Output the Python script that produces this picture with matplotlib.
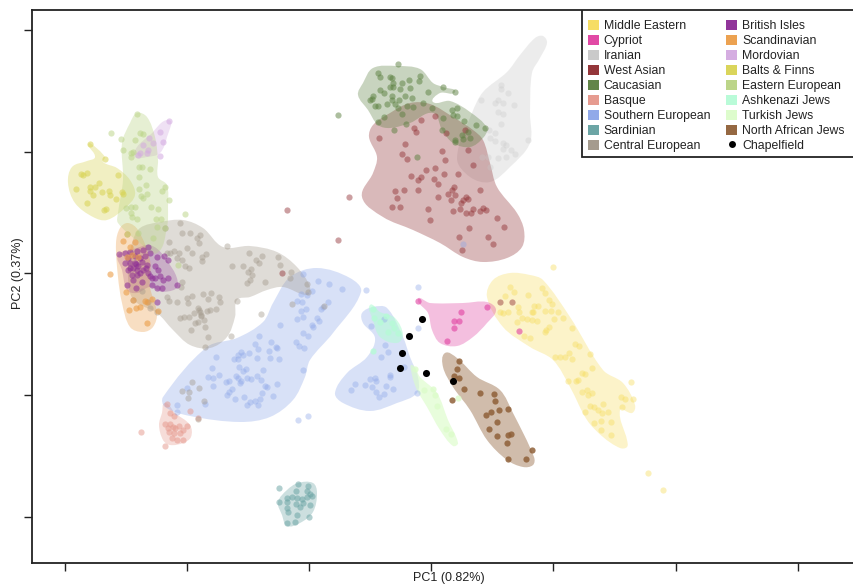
import math
import matplotlib
matplotlib.use('Agg')
import matplotlib.pyplot as plt
from matplotlib.path import Path
from matplotlib.patches import PathPatch, Patch, Rectangle
from matplotlib.lines import Line2D

plt.rcParams['font.family'] = ['Liberation Sans', 'DejaVu Sans']

# values, in the plot's own (unlabelled) units
middle_eastern = [(510,287),(505,296),(514,292),(528,295),(542,288),(545,293),(549,300),(552,304),(538,306),(534,306),(518,307),(519,312),(532,312),(533,312),(545,311),(551,311),(558,312),(563,318),(554,319),(537,321),(532,320),(527,319),(522,318),(517,322),(508,312),(503,313),(500,312),(572,328),(549,327),(546,330),(545,332),(524,336),(530,338),(575,344),(579,346),(590,354),(569,353),(572,359),(565,357),(560,357),(555,357),(592,368),(585,374),(582,373),(578,380),(576,381),(568,381),(587,390),(588,395),(582,392),(592,393),(603,404),(590,406),(594,407),(598,410),(602,413),(608,412),(585,412),(611,422),(601,421),(594,423),(601,430),(611,435),(621,397),(625,399),(622,407),(631,382),(633,399),(648,473),(663,490),(553,267)]
cypriot = [(418,301),(461,312),(454,321),(459,321),(454,328),(447,341),(487,307),(519,331)]
iranian = [(501,85),(501,89),(508,93),(481,100),(498,100),(495,103),(503,103),(514,105),(498,112),(503,114),(501,124),(489,130),(495,133),(490,138),(495,141),(503,143),(506,145),(503,149),(511,150),(515,154),(498,158),(506,157),(528,140),(482,157),(488,157),(490,167)]
west_asian = [(379,138),(421,120),(435,116),(414,128),(416,132),(405,144),(402,154),(407,159),(442,151),(445,160),(468,150),(473,165),(426,170),(435,168),(411,176),(418,180),(421,177),(434,179),(444,174),(458,174),(438,184),(395,191),(404,190),(418,190),(397,198),(392,207),(400,207),(428,209),(430,220),(438,197),(448,194),(452,190),(454,187),(455,195),(451,200),(461,203),(463,200),(466,197),(468,199),(460,209),(453,211),(466,213),(471,213),(473,209),(480,211),(483,208),(486,210),(480,190),(497,218),(504,227),(469,228),(459,237),(488,237),(493,244),(462,250),(349,197),(446,133),(465,130),(338,240),(287,210),(282,273),(500,302),(512,302)]
caucasian = [(398,64),(378,73),(380,77),(390,77),(392,78),(420,76),(419,81),(409,80),(393,83),(402,83),(400,89),(390,87),(393,87),(410,88),(380,90),(384,93),(392,96),(392,100),(399,100),(405,96),(412,98),(373,96),(372,99),(370,100),(375,106),(378,106),(387,104),(395,104),(398,108),(407,106),(413,107),(423,103),(428,92),(443,87),(455,92),(402,114),(384,117),(378,122),(406,124),(394,130),(432,108),(443,118),(452,110),(457,108),(453,115),(457,116),(464,121),(476,125),(485,128),(442,130),(455,140),(468,132),(462,135),(470,138),(463,139),(455,142),(338,115),(417,157)]
basque = [(167,404),(170,413),(174,416),(165,424),(170,424),(173,427),(179,426),(187,426),(183,430),(169,432),(174,433),(180,433),(172,438),(177,440),(183,440),(165,446),(141,432),(190,411),(198,418),(168,428),(175,428)]
southern_european = [(303,274),(318,281),(329,284),(342,289),(366,290),(312,291),(301,294),(307,295),(297,301),(302,302),(328,302),(323,307),(321,309),(306,309),(301,311),(303,317),(297,319),(317,318),(319,321),(312,325),(313,327),(280,325),(303,333),(308,336),(296,342),(299,346),(304,348),(259,336),(255,344),(258,349),(271,342),(269,351),(276,347),(277,348),(241,352),(238,355),(243,355),(249,353),(234,359),(238,359),(257,358),(270,358),(279,359),(216,357),(212,368),(239,367),(243,371),(246,369),(263,370),(303,370),(208,377),(213,378),(219,375),(213,386),(226,382),(229,381),(236,376),(238,378),(241,381),(247,378),(251,379),(257,376),(261,380),(240,383),(265,386),(267,387),(277,384),(262,393),(273,396),(187,388),(232,389),(229,392),(227,395),(235,399),(244,397),(247,405),(250,402),(255,401),(260,399),(258,405),(177,405),(177,412),(205,404),(298,420),(308,416),(418,287),(418,328),(384,319),(371,326),(385,345),(388,352),(381,357),(404,367),(390,375),(390,377),(370,379),(375,378),(376,381),(365,385),(372,387),(355,384),(351,390),(386,386),(376,392),(384,394),(379,397),(393,389),(417,393),(463,244)]
sardinian = [(279,488),(298,484),(308,486),(307,491),(296,491),(310,494),(312,496),(292,497),(287,498),(297,498),(302,499),(287,502),(279,502),(296,504),(300,507),(303,503),(310,505),(287,508),(288,512),(297,515),(309,517),(295,522),(287,523),(307,497)]
central_european = [(180,223),(165,228),(182,233),(190,233),(200,235),(197,238),(199,243),(169,242),(227,246),(187,248),(192,253),(206,254),(202,257),(202,261),(179,253),(174,251),(167,253),(170,253),(177,258),(182,260),(185,266),(189,268),(232,266),(243,266),(249,253),(262,256),(256,260),(259,263),(278,257),(280,265),(251,269),(248,272),(252,275),(250,280),(247,283),(265,282),(291,272),(290,278),(307,284),(308,292),(292,304),(324,306),(182,282),(181,287),(167,297),(169,301),(177,302),(192,296),(187,298),(188,303),(203,294),(211,293),(219,297),(208,299),(220,302),(237,301),(216,309),(210,310),(207,311),(198,308),(194,313),(189,317),(184,317),(180,318),(201,316),(204,320),(198,322),(195,323),(205,327),(191,330),(208,337),(231,336),(261,314),(205,347),(133,300),(142,291),(148,302),(157,312),(150,308),(182,391),(189,392),(188,398),(192,382),(199,388),(204,401),(198,419),(200,312),(201,315),(199,310)]
british_isles = [(119,254),(125,253),(130,252),(137,251),(143,250),(148,247),(150,253),(157,257),(164,256),(168,260),(125,263),(130,263),(135,263),(142,262),(147,265),(155,266),(128,270),(133,268),(137,270),(143,270),(148,273),(132,275),(137,275),(140,273),(152,278),(155,278),(163,280),(168,278),(142,282),(136,288),(152,285),(157,288),(162,288),(177,285),(127,285),(157,302),(136,264),(138,266),(130,268),(146,268),(150,276),(133,280),(145,256),(128,258),(135,256),(158,270),(160,276),(140,258)]
scandinavian = [(127,234),(123,241),(135,242),(130,247),(127,257),(132,255),(138,257),(110,274),(126,292),(133,300),(145,301),(152,299),(140,307),(136,308),(129,310),(158,311),(147,323),(147,302)]
mordovian = [(169,121),(160,132),(149,138),(153,143),(163,142),(143,145),(148,150),(140,153),(138,155),(160,156),(147,153)]
balts_finns = [(90,144),(105,159),(118,175),(81,174),(83,175),(87,173),(90,187),(95,187),(99,183),(90,191),(93,195),(76,189),(102,192),(109,191),(110,195),(122,192),(123,194),(116,199),(87,203),(104,210),(106,209)]
eastern_european = [(137,114),(111,133),(121,139),(140,133),(143,134),(135,140),(123,150),(133,152),(131,153),(131,157),(139,167),(142,167),(150,169),(139,177),(146,185),(165,187),(162,191),(139,189),(141,196),(147,194),(143,198),(169,200),(151,207),(158,209),(135,207),(126,208),(131,207),(131,213),(132,217),(137,219),(156,219),(161,219),(185,214),(157,227),(165,228),(153,238),(178,265),(138,233),(127,234)]
ashkenazi = [(373,309),(374,318),(392,323),(388,332),(394,328),(398,333),(373,351),(380,322),(386,316)]
turkish = [(415,369),(424,390),(433,389),(435,395),(437,406),(446,429),(451,434),(458,398)]
north_african = [(459,361),(457,369),(454,376),(459,378),(464,389),(480,393),(494,394),(495,401),(452,400),(499,410),(491,412),(486,415),(508,409),(497,422),(489,429),(497,436),(508,435),(511,434),(507,443),(532,450),(508,459),(526,459)]
chapelfield = [(422,319),(409,336),(402,353),(400,368),(426,373),(453,381)]

# outlines of the shaded areas
hull_middle_eastern = [(493,280),(510,273),(530,275),(543,280),(570,317),(603,370),(623,383),(635,405),(632,413),(620,410),(627,440),(627,447),(620,448),(603,437),(587,420),(570,387),(553,360),(530,347),(503,327),(487,297)]
hull_cypriot = [(418,299),(430,303),(463,303),(487,302),(496,310),(487,323),(473,337),(457,346),(440,343),(432,330),(428,313)]
hull_iranian = [(543,36),(547,43),(540,58),(532,73),(530,113),(530,143),(510,167),(490,182),(470,177),(457,158),(472,113),(483,92),(507,72),(520,55),(535,38)]
hull_west_asian = [(373,125),(390,113),(410,103),(430,104),(453,117),(473,130),(483,140),(490,163),(497,187),(517,213),(524,230),(522,247),(507,258),(483,262),(463,257),(440,243),(413,230),(383,217),(362,197),(373,173),(377,157),(369,137)]
hull_caucasian = [(373,68),(397,66),(420,69),(433,83),(443,87),(455,92),(440,93),(433,102),(450,101),(470,112),(487,128),(483,138),(470,147),(453,143),(442,130),(433,113),(410,123),(390,128),(378,125),(368,110),(358,95),(363,83)]
hull_basque = [(165,403),(175,413),(190,425),(191,437),(183,443),(170,445),(163,440),(159,425),(162,413)]
hull_southern_a = [(350,278),(317,268),(290,277),(273,303),(263,322),(237,338),(207,347),(163,397),(165,407),(190,416),(240,422),(270,417),(293,400),(305,377),(310,360),(333,333),(361,292)]
hull_southern_b = [(373,307),(387,308),(403,337),(410,357),(418,377),(417,393),(397,403),(370,411),(343,403),(335,393),(347,373),(367,357),(375,338),(363,323),(362,313)]
hull_sardinian = [(298,483),(313,483),(317,493),(313,512),(300,523),(287,526),(282,515),(278,502),(287,490)]
hull_central = [(140,228),(160,222),(183,220),(203,228),(223,247),(250,246),(277,252),(297,267),(310,287),(307,295),(283,287),(267,290),(250,297),(237,300),(235,317),(227,337),(210,348),(190,345),(173,330),(157,313),(137,303),(130,293),(128,267),(132,243)]
hull_british = [(118,255),(137,248),(150,245),(163,255),(178,285),(163,292),(150,287),(137,293),(127,290),(122,270)]
hull_scandinavian = [(128,223),(138,230),(150,260),(150,287),(157,313),(153,327),(143,332),(130,327),(122,303),(118,277),(116,243),(120,228)]
hull_mordovian = [(169,120),(167,137),(160,153),(147,157),(135,157),(137,147),(150,135)]
hull_balts = [(90,143),(105,157),(103,162),(117,168),(130,180),(135,195),(125,208),(107,220),(93,217),(75,203),(68,183),(72,167),(87,161),(95,157),(88,145)]
hull_eastern = [(137,113),(147,117),(155,137),(158,160),(158,177),(167,185),(168,207),(167,227),(157,253),(140,243),(118,223),(118,213),(123,180),(122,143),(130,123)]
hull_ashkenazi = [(370,305),(380,312),(395,318),(403,335),(397,343),(380,337),(373,320)]
hull_turkish = [(412,365),(420,377),(437,393),(448,420),(458,443),(453,446),(440,430),(427,407),(417,390),(412,375)]
hull_north_african = [(445,353),(457,358),(477,377),(500,390),(513,413),(534,457),(533,465),(523,467),(507,460),(487,440),(470,410),(453,387),(443,367)]

group_names = ['Middle Eastern', 'Cypriot', 'Iranian', 'West Asian', 'Caucasian', 'Basque', 'Southern European', 'Sardinian', 'Central European',
               'British Isles', 'Scandinavian', 'Mordovian', 'Balts & Finns', 'Eastern European', 'Ashkenazi Jews', 'Turkish Jews', 'North African Jews']
group_colors = ['#f6dc5c', '#e03fa0', '#c8c8c8', '#8e2b2f', '#5a7f3e', '#e5968a', '#8ba5e8', '#64a0a0', '#a09688',
                '#8b2a95', '#eb9d47', '#d3a9e0', '#d8d352', '#b9d383', '#b6fbd6', '#dcfcca', '#8f6038']
hull_alphas = [0.33, 0.33, 0.33, 0.33, 0.33, 0.33, 0.33, 0.33, 0.33, 0.25, 0.33, 0.35, 0.35, 0.35, 0.6, 0.65, 0.42]
point_alphas = [0.42, 0.6, 0.32, 0.45, 0.5, 0.5, 0.38, 0.5, 0.42, 0.55, 0.6, 0.55, 0.55, 0.5, 0.8, 0.8, 0.85]
group_points = [middle_eastern, cypriot, iranian, west_asian, caucasian, basque, southern_european, sardinian, central_european,
                british_isles, scandinavian, mordovian, balts_finns, eastern_european, ashkenazi, turkish, north_african]
group_hulls = [[hull_middle_eastern], [hull_cypriot], [hull_iranian], [hull_west_asian], [hull_caucasian], [hull_basque],
               [hull_southern_a, hull_southern_b], [hull_sardinian], [hull_central], [hull_british], [hull_scandinavian],
               [hull_mordovian], [hull_balts], [hull_eastern], [hull_ashkenazi], [hull_turkish], [hull_north_african]]

x_ticks = [65, 187, 309, 431, 553, 676, 798]
y_ticks = [30, 152, 273, 395, 517]


def smooth_closed(pts):
    # closed outline as bezier segments, handles scaled by segment length
    n = len(pts)
    tangents = []
    for i in range(n):
        dx = pts[(i + 1) % n][0] - pts[i - 1][0]
        dy = pts[(i + 1) % n][1] - pts[i - 1][1]
        d = math.hypot(dx, dy) or 1
        tangents.append((dx / d, dy / d))
    verts = [pts[0]]
    codes = [Path.MOVETO]
    for i in range(n):
        j = (i + 1) % n
        seg = math.hypot(pts[j][0] - pts[i][0], pts[j][1] - pts[i][1]) / 3
        verts.append((pts[i][0] + tangents[i][0] * seg, pts[i][1] + tangents[i][1] * seg))
        verts.append((pts[j][0] - tangents[j][0] * seg, pts[j][1] - tangents[j][1] * seg))
        verts.append(pts[j])
        codes += [Path.CURVE4] * 3
    return Path(verts, codes)


fig = plt.figure(figsize=(8.54, 5.86), dpi=100)
ax = fig.add_axes([32 / 854, 1 - 563 / 586, 1 - 32 / 854, (563 - 10) / 586])
ax.set_xlim(32, 854)
ax.set_ylim(563, 10)

for color, alpha, hulls in zip(group_colors, hull_alphas, group_hulls):
    for hull in hulls:
        ax.add_patch(PathPatch(smooth_closed(hull), facecolor=color, edgecolor='none', alpha=alpha, zorder=2))

for color, alpha, pts in zip(group_colors, point_alphas, group_points):
    ax.scatter([p[0] for p in pts], [p[1] for p in pts], s=20, color=color, alpha=alpha, linewidths=0, zorder=3)

ax.scatter([p[0] for p in chapelfield], [p[1] for p in chapelfield], s=26, color='black', linewidths=0, zorder=4)

ax.set_xticks(x_ticks)
ax.set_yticks(y_ticks)
ax.set_xticklabels([])
ax.set_yticklabels([])
ax.tick_params(length=6, width=1, color='#222222')
ax.spines['right'].set_visible(False)
for side in ['left', 'top', 'bottom']:
    ax.spines[side].set_linewidth(1.3)
    ax.spines[side].set_color('#222222')

fig.text(449 / 854, 1 - 578 / 586, 'PC1 (0.82%)', fontsize=9, ha='center', va='center', color='#222222')
fig.text(18 / 854, 1 - 273 / 586, 'PC2 (0.37%)', fontsize=9, ha='center', va='center', rotation=90, color='#222222')

# legend box runs off the right edge, so it is drawn on its own
ax.add_patch(Rectangle((582, 10), 300, 147, facecolor='white', edgecolor='#222222', linewidth=1.3, zorder=9))
handles = [Patch(facecolor=c, edgecolor='none', alpha=0.95) for c in group_colors]
handles.append(Line2D([], [], marker='o', color='none', markerfacecolor='black', markeredgecolor='none', markersize=5))
labels = group_names + ['Chapelfield']
leg = ax.legend(handles, labels, ncol=2, loc='upper left', bbox_to_anchor=(581, 13), bbox_transform=ax.transData,
                fontsize=8.8, frameon=False,
                handlelength=0.9, handleheight=0.9, handletextpad=0.42, labelspacing=0.22,
                columnspacing=1.3, borderaxespad=0, borderpad=0.55, labelcolor='#222222')
leg.set_zorder(10)

fig.savefig('out.png', dpi=100)
